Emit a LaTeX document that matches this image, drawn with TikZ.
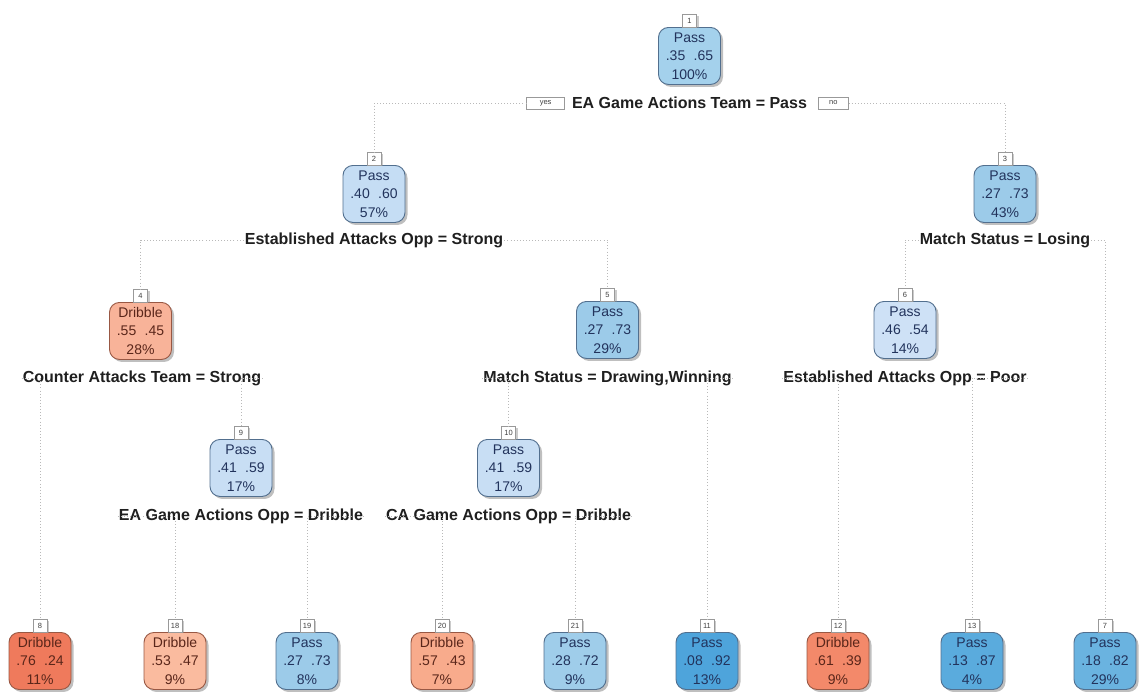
\documentclass[tikz,border=0pt]{standalone}
\usepackage{fontspec}
\setmainfont{Liberation Sans}
\usetikzlibrary{shadows}

\definecolor{passline}{HTML}{526F8E}
\definecolor{dribline}{HTML}{985844}
\definecolor{passtext}{HTML}{22335C}
\definecolor{dribtext}{HTML}{5A261A}

\begin{document}
\begin{tikzpicture}[x=1pt,y=-1pt,
  tnode/.style={draw, rounded corners=10pt, minimum width=62pt, minimum height=57pt,
    inner sep=0pt, align=center, line width=0.9pt, anchor=north,
    font=\fontsize{14}{18.5}\selectfont,
    drop shadow={shadow xshift=2.5pt, shadow yshift=-2.5pt, fill=black!50, opacity=0.5}},
  pass/.style={tnode, draw=passline, text=passtext},
  drib/.style={tnode, draw=dribline, text=dribtext},
  numbox/.style={draw=gray!80, fill=white, font=\fontsize{7.5}{7.5}\selectfont,
    inner xsep=2pt, inner ysep=1pt, minimum height=12.5pt, minimum width=14pt,
    anchor=south, text=black!75,
    drop shadow={shadow xshift=2pt, shadow yshift=-1.5pt, fill=black!45, opacity=0.45}},
  split/.style={font=\fontsize{16}{16}\selectfont\bfseries, text=black!88, inner sep=1pt},
  yn/.style={draw=gray!80, fill=white, font=\fontsize{7.5}{7.5}\selectfont,
    minimum height=12.5pt, inner sep=1pt, text=black!75},
  conn/.style={draw=gray!55, line width=1pt, dash pattern=on 0.9pt off 2.2pt}
]
\useasboundingbox (0,0) rectangle (1146,696);

% ---- internal nodes ----
\node[pass, fill={rgb,255:red,164;green,209;blue,236}] (n1) at (689.5,27) {Pass\\.35\hspace{0.6em}.65\\100\%};
\node[pass, fill={rgb,255:red,197;green,221;blue,244}] (n2) at (374,165) {Pass\\.40\hspace{0.6em}.60\\57\%};
\node[pass, fill={rgb,255:red,156;green,203;blue,233}] (n3) at (1005,165) {Pass\\.27\hspace{0.6em}.73\\43\%};
\node[drib, fill={rgb,255:red,248;green,179;blue,153}] (n4) at (140.5,302) {Dribble\\.55\hspace{0.6em}.45\\28\%};
\node[pass, fill={rgb,255:red,156;green,203;blue,233}] (n5) at (607.5,301) {Pass\\.27\hspace{0.6em}.73\\29\%};
\node[pass, fill={rgb,255:red,206;green,225;blue,246}] (n6) at (905,301) {Pass\\.46\hspace{0.6em}.54\\14\%};
\node[pass, fill={rgb,255:red,200;green,222;blue,244}] (n9) at (241,439) {Pass\\.41\hspace{0.6em}.59\\17\%};
\node[pass, fill={rgb,255:red,200;green,222;blue,244}] (n10) at (508.5,439) {Pass\\.41\hspace{0.6em}.59\\17\%};

% ---- leaves ----
\node[drib, fill={rgb,255:red,239;green,122;blue,92}]  (n8)  at (40,632)  {Dribble\\.76\hspace{0.6em}.24\\11\%};
\node[drib, fill={rgb,255:red,250;green,187;blue,159}] (n18) at (175,632) {Dribble\\.53\hspace{0.6em}.47\\9\%};
\node[pass, fill={rgb,255:red,156;green,203;blue,233}] (n19) at (307,632) {Pass\\.27\hspace{0.6em}.73\\8\%};
\node[drib, fill={rgb,255:red,248;green,171;blue,140}] (n20) at (442,632) {Dribble\\.57\hspace{0.6em}.43\\7\%};
\node[pass, fill={rgb,255:red,159;green,205;blue,234}] (n21) at (575,632) {Pass\\.28\hspace{0.6em}.72\\9\%};
\node[pass, fill={rgb,255:red,78;green,164;blue,219}]  (n11) at (707,632) {Pass\\.08\hspace{0.6em}.92\\13\%};
\node[drib, fill={rgb,255:red,243;green,137;blue,106}] (n12) at (838,632) {Dribble\\.61\hspace{0.6em}.39\\9\%};
\node[pass, fill={rgb,255:red,90;green,171;blue,221}]  (n13) at (972,632) {Pass\\.13\hspace{0.6em}.87\\4\%};
\node[pass, fill={rgb,255:red,106;green,179;blue,224}] (n7)  at (1105,632) {Pass\\.18\hspace{0.6em}.82\\29\%};

% ---- node number tags ----
\foreach \n in {1,2,3,4,5,6,7,8,9,10,11,12,13,18,19,20,21}
  \node[numbox] (k\n) at (n\n.north) {\n};

% ---- split labels ----
\node[split] (s1) at (689.5,103) {EA Game Actions Team = Pass};
\node[yn, anchor=east, minimum width=38pt] (yes) at ([xshift=-6pt]s1.west) {yes};
\node[yn, anchor=west, minimum width=30pt] (no) at ([xshift=10pt]s1.east) {no};
\node[split] (s2) at (374,240) {Established Attacks Opp = Strong};
\node[split] (s3) at (1005,240) {Match Status = Losing};
\node[split] (s4) at (142,378) {Counter Attacks Team = Strong};
\node[split] (s5) at (607.5,378) {Match Status = Drawing,Winning};
\node[split] (s6) at (905,378) {Established Attacks Opp = Poor};
\node[split] (s9) at (241,516) {EA Game Actions Opp = Dribble};
\node[split] (s10) at (508.5,516) {CA Game Actions Opp = Dribble};

% ---- branches ----
\draw[conn] (yes.west) -| (k2.north);
\draw[conn] (no.east) -| (k3.north);
\draw[conn] (s2.west) -| (k4.north);
\draw[conn] (s2.east) -| (k5.north);
\draw[conn] (s3.west) -| (k6.north);
\draw[conn] (s3.east) -| (k7.north);
\draw[conn] (s4.west) -| (k8.north);
\draw[conn] (s4.east) -| (k9.north);
\draw[conn] (s5.west) -| (k10.north);
\draw[conn] (s5.east) -| (k11.north);
\draw[conn] (s6.west) -| (k12.north);
\draw[conn] (s6.east) -| (k13.north);
\draw[conn] (s9.west) -| (k18.north);
\draw[conn] (s9.east) -| (k19.north);
\draw[conn] (s10.west) -| (k20.north);
\draw[conn] (s10.east) -| (k21.north);
\end{tikzpicture}
\end{document}
